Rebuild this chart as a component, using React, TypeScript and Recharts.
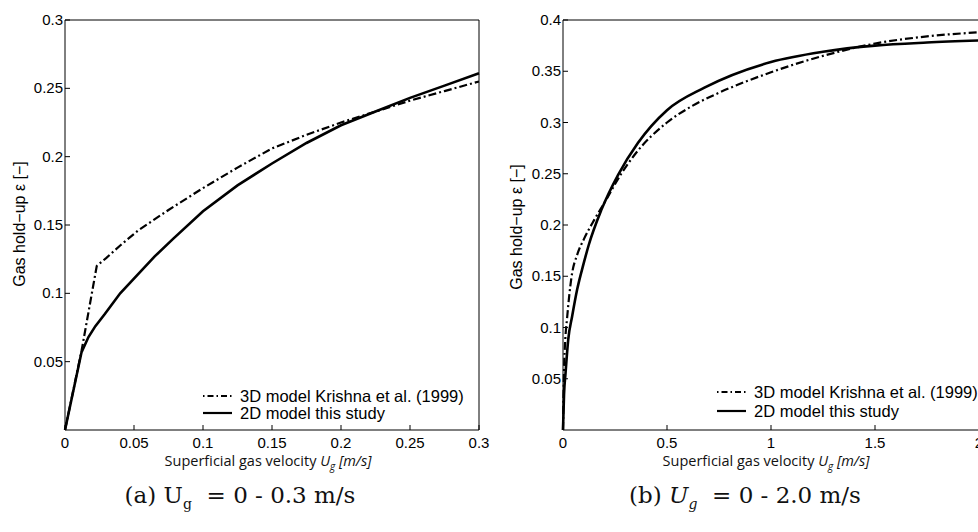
import React from 'react';
import { LineChart, Line, XAxis, YAxis } from 'recharts';

// (a) Ug = 0 - 0.3 m/s
const leftUg3D = [0, 0.012, 0.023, 0.03, 0.04, 0.053, 0.075, 0.1, 0.125, 0.15, 0.175, 0.2, 0.225, 0.25, 0.275, 0.3];
const leftEps3D = [0, 0.058, 0.12, 0.126, 0.135, 0.146, 0.161, 0.177, 0.192, 0.206, 0.216, 0.225, 0.233, 0.241, 0.248, 0.255];
const leftUg2D = [0, 0.012, 0.017, 0.022, 0.029, 0.04, 0.053, 0.065, 0.0785, 0.1, 0.125, 0.15, 0.175, 0.2, 0.225, 0.25, 0.275, 0.3];
const leftEps2D = [0, 0.057, 0.068, 0.076, 0.085, 0.1, 0.114, 0.127, 0.14, 0.16, 0.179, 0.195, 0.21, 0.223, 0.233, 0.243, 0.252, 0.261];

// (b) Ug = 0 - 2.0 m/s
const rightUg3D = [0, 0.005, 0.01, 0.02, 0.04, 0.07, 0.1, 0.15, 0.2, 0.28, 0.35, 0.5, 0.62, 0.75, 1.0, 1.25, 1.5, 1.75, 2.0];
const rightEps3D = [0, 0.06, 0.085, 0.11, 0.148, 0.172, 0.186, 0.205, 0.222, 0.25, 0.27, 0.3, 0.316, 0.329, 0.349, 0.365, 0.377, 0.384, 0.388];
const rightUg2D = [0, 0.005, 0.012, 0.025, 0.044, 0.068, 0.1, 0.123, 0.185, 0.265, 0.36, 0.5, 0.68, 1.0, 1.25, 1.5, 1.75, 2.0];
const rightEps2D = [0, 0.035, 0.055, 0.088, 0.111, 0.137, 0.163, 0.18, 0.215, 0.249, 0.28, 0.312, 0.334, 0.359, 0.369, 0.375, 0.378, 0.38];

const leftXTicks = [0, 0.05, 0.1, 0.15, 0.2, 0.25, 0.3];
const leftYTicks = [0.05, 0.1, 0.15, 0.2, 0.25, 0.3];
const rightXTicks = [0, 0.5, 1, 1.5, 2];
const rightYTicks = [0.05, 0.1, 0.15, 0.2, 0.25, 0.3, 0.35, 0.4];

const legendNames = ['3D model Krishna et al. (1999)', '2D model this study'];

const zip = (u: number[], e: number[]) => u.map((v, i) => ({ u: v, eps: e[i] }));

const SANS = '"Liberation Sans", Arial, Helvetica, sans-serif';
const DASHDOT = '8 3 2 3';

function BottomTick({ x, y, payload }: any) {
  return (
    <g>
      <line x1={x} y1={y} x2={x} y2={y - 5} stroke="#000" />
      <text x={x} y={y + 18} textAnchor="middle" fontFamily={SANS} fontSize={15} fill="#000">
        {payload.value}
      </text>
    </g>
  );
}

function TopTick({ x, y }: any) {
  return <line x1={x} y1={y} x2={x} y2={y + 5} stroke="#000" />;
}

function LeftTick({ x, y, payload }: any) {
  return (
    <g>
      <line x1={x} y1={y} x2={x + 5} y2={y} stroke="#000" />
      <text x={x - 2} y={y + 5} textAnchor="end" fontFamily={SANS} fontSize={15} fill="#000">
        {payload.value}
      </text>
    </g>
  );
}

function RightTick({ x, y }: any) {
  return <line x1={x} y1={y} x2={x - 5} y2={y} stroke="#000" />;
}

function Panel({ d3, d2, xTicks, yTicks, xMax, yMax, width, margin, curve }: any) {
  const axisProps = { tickLine: false, tickSize: 0, tickMargin: 0, axisLine: { stroke: '#000' }, interval: 0 as const };
  return (
    <LineChart width={width} height={460} margin={margin}>
      <XAxis xAxisId="b" type="number" dataKey="u" domain={[0, xMax]} ticks={xTicks} tick={<BottomTick />} height={1} {...axisProps} />
      <XAxis xAxisId="t" orientation="top" type="number" dataKey="u" domain={[0, xMax]} ticks={xTicks} tick={<TopTick />} height={1} {...axisProps} />
      <YAxis yAxisId="l" type="number" domain={[0, yMax]} ticks={yTicks} tick={<LeftTick />} width={1} {...axisProps} />
      <YAxis yAxisId="r" orientation="right" type="number" domain={[0, yMax]} ticks={yTicks} tick={<RightTick />} width={1} {...axisProps} />
      <Line xAxisId="b" yAxisId="l" data={d3} dataKey="eps" type={curve} stroke="#000" strokeWidth={2.2}
        strokeDasharray={DASHDOT} dot={false} isAnimationActive={false} />
      <Line xAxisId="b" yAxisId="l" data={d2} dataKey="eps" type={curve} stroke="#000" strokeWidth={2.6}
        dot={false} isAnimationActive={false} />
    </LineChart>
  );
}

function Legend({ x, y1, y2 }: { x: number; y1: number; y2: number }) {
  return (
    <g fontFamily={SANS} fontSize={16.5} fill="#000">
      <line x1={x} y1={y1} x2={x + 29} y2={y1} stroke="#000" strokeWidth={2} strokeDasharray="1.5 3 6 3" />
      <text x={x + 37} y={y1 + 6}>{legendNames[0]}</text>
      <line x1={x} y1={y2} x2={x + 29} y2={y2} stroke="#000" strokeWidth={2.2} />
      <text x={x + 37} y={y2 + 6}>{legendNames[1]}</text>
    </g>
  );
}

function XLabel({ cx }: { cx: number }) {
  return (
    <text x={cx} y={466} textAnchor="middle" fontFamily='"Open Sans", sans-serif' fontSize={14.5} fill="#111" style={{ whiteSpace: 'pre' }}>
      Superficial gas velocity <tspan fontStyle="italic">U</tspan>
      <tspan fontStyle="italic" fontSize={10} dy={4}>g</tspan>
      <tspan fontStyle="italic" dy={-4}> [m/s]</tspan>
    </text>
  );
}

function YLabel({ x, cy }: { x: number; cy: number }) {
  return (
    <text x={x} y={cy} transform={`rotate(-90 ${x} ${cy})`} textAnchor="middle" fontFamily={SANS} fontSize={16} fill="#000">
      Gas hold−up ε [−]
    </text>
  );
}

export default function App() {
  const serif = '"DejaVu Serif", "Liberation Serif", serif';
  return (
    <div style={{ position: 'fixed', left: 0, top: 0, width: 978, height: 532, overflow: 'hidden', background: '#fff' }}>
      <div style={{ position: 'absolute', left: 0, top: 0 }}>
        <Panel d3={zip(leftUg3D, leftEps3D)} d2={zip(leftUg2D, leftEps2D)} xTicks={leftXTicks} yTicks={leftYTicks}
          xMax={0.3} yMax={0.3} width={490} margin={{ top: 19, right: 10, bottom: 29, left: 64 }} curve="linear" />
      </div>
      <div style={{ position: 'absolute', left: 488, top: 0 }}>
        <Panel d3={zip(rightUg3D, rightEps3D)} d2={zip(rightUg2D, rightEps2D)} xTicks={rightXTicks} yTicks={rightYTicks}
          xMax={2} yMax={0.4} width={500} margin={{ top: 19, right: 8, bottom: 29, left: 74 }} curve="monotone" />
      </div>
      <svg width={978} height={532} style={{ position: 'absolute', left: 0, top: 0, pointerEvents: 'none' }}>
        <YLabel x={25} cy={224} />
        <YLabel x={522} cy={227} />
        <XLabel cx={268} />
        <XLabel cx={766} />
        <Legend x={203} y1={396} y2={413} />
        <Legend x={717} y1={392} y2={411} />
        <text x={240} y={503} textAnchor="middle" fontFamily={serif} fontSize={23} fill="#111" style={{ whiteSpace: 'pre' }}>
          (a) U<tspan fontSize={14} dy={6}>g</tspan><tspan dy={-6}>  = 0 - 0.3 m/s</tspan>
        </text>
        <text x={745} y={503} textAnchor="middle" fontFamily={serif} fontSize={23} fill="#111" style={{ whiteSpace: 'pre' }}>
          (b) <tspan fontStyle="italic">U</tspan><tspan fontSize={14} fontStyle="italic" dy={6}>g</tspan><tspan dy={-6}>  = 0 - 2.0 m/s</tspan>
        </text>
      </svg>
    </div>
  );
}
